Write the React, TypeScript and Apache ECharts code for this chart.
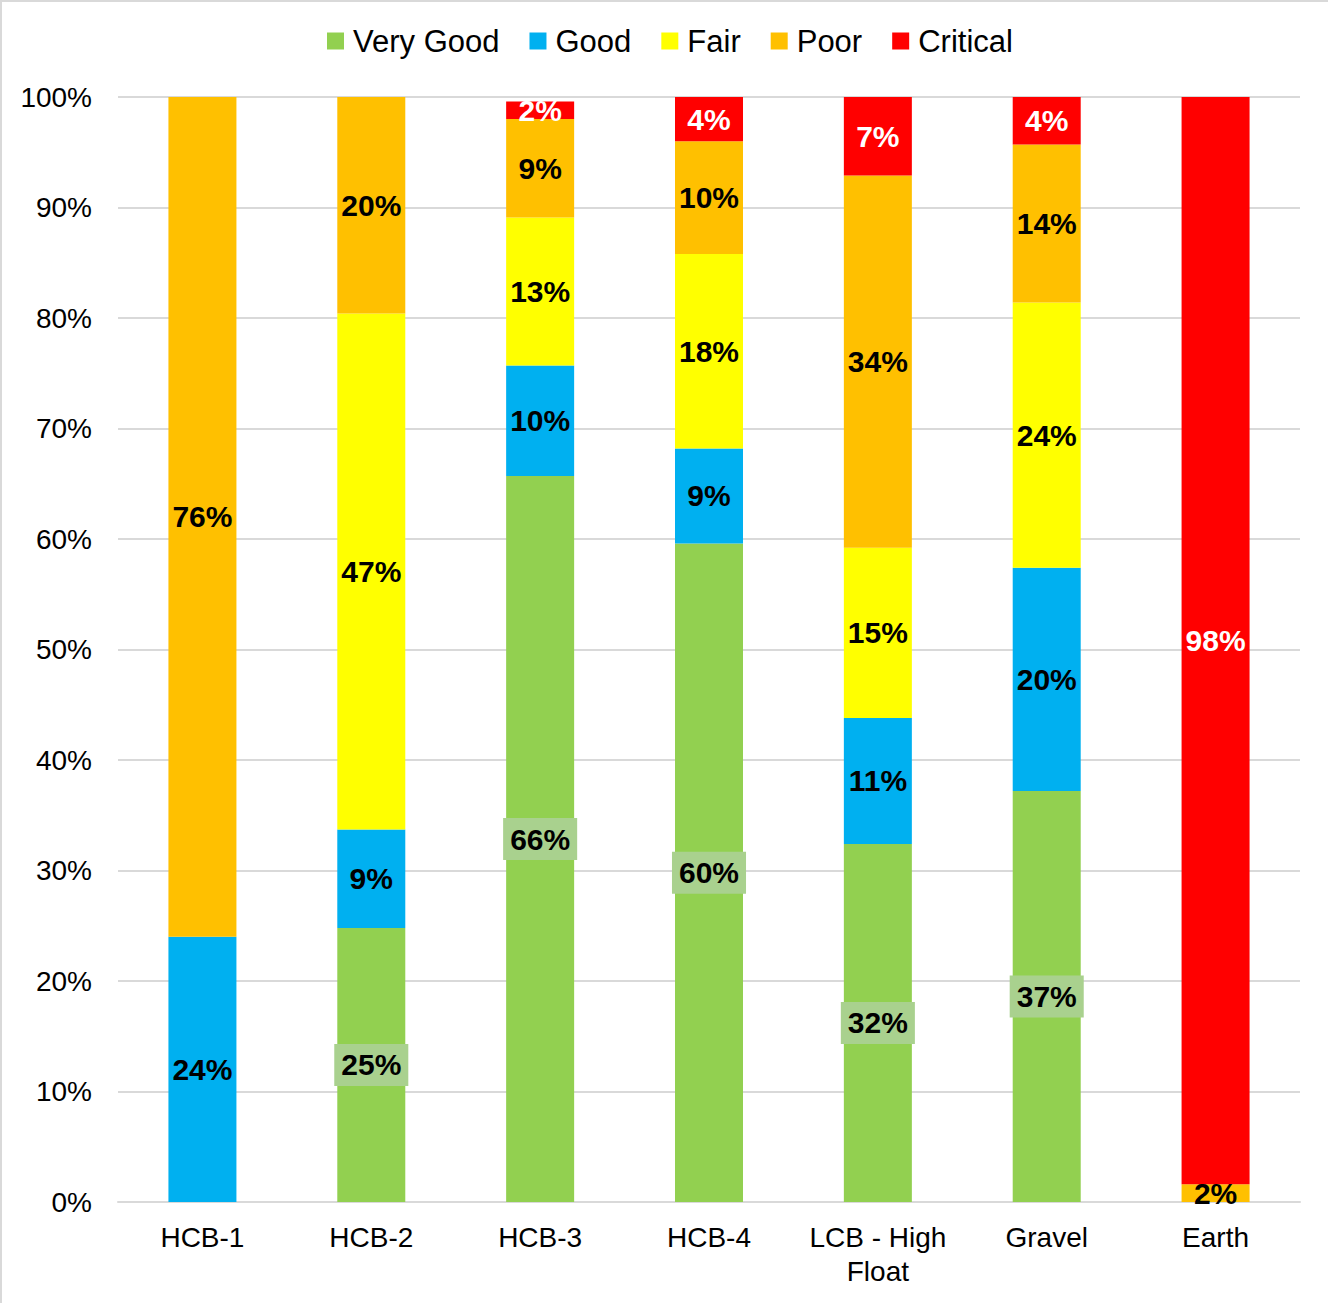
import React, { useEffect, useRef } from "react";
import * as echarts from "echarts";

const categories = ["HCB-1", "HCB-2", "HCB-3", "HCB-4", "LCB - High\nFloat", "Gravel", "Earth"];
const seriesNames = ["Very Good", "Good", "Fair", "Poor", "Critical"];
const veryGood = [0, 24.8, 65.7, 59.6, 32.4, 37.2, 0];
const good = [24.0, 8.9, 10.0, 8.6, 11.4, 20.2, 0];
const fair = [0, 46.7, 13.4, 17.6, 15.4, 24.0, 0];
const poor = [76.0, 19.6, 8.9, 10.2, 33.7, 14.3, 1.6];
const critical = [0, 0, 1.6, 4.0, 7.1, 4.3, 98.4];
const yTicks = [0, 10, 20, 30, 40, 50, 60, 70, 80, 90, 100];

const colors = ["#92D050", "#00B0F0", "#FFFF00", "#FFC000", "#FF0000"];
const FONT = "'Liberation Sans', Arial, sans-serif";

export default function App() {
  const ref = useRef<HTMLDivElement>(null);
  useEffect(() => {
    if (!ref.current) return;
    const chart = echarts.init(ref.current, null, { renderer: "svg" });
    const data = [veryGood, good, fair, poor, critical];
    const series = data.map((arr, i) => ({
      name: seriesNames[i],
      type: "bar",
      stack: "total",
      barWidth: 68,
      itemStyle: { color: colors[i] },
      data: arr.map((v) => (v === 0 ? "-" : v)),
      label: {
        show: true,
        position: "inside",
        formatter: (p: any) => Math.round(p.value) + "%",
        fontFamily: FONT,
        fontWeight: "bold",
        fontSize: 30,
        color: i === 4 ? "#FFFFFF" : "#000000",
        ...(i === 0
          ? { backgroundColor: "#A9D18E", padding: [7, 7, 5, 7] }
          : {}),
      },
    }));
    chart.setOption({
      animation: false,
      backgroundColor: "#FFFFFF",
      textStyle: { fontFamily: FONT },
      graphic: [
        { type: "line", shape: { x1: 0, y1: 1, x2: 1328, y2: 1 }, style: { stroke: "#D9D9D9", lineWidth: 2 } },
        { type: "line", shape: { x1: 1, y1: 0, x2: 1, y2: 1303 }, style: { stroke: "#D9D9D9", lineWidth: 2 } },
      ],
      legend: {
        top: 25,
        left: 327,
        padding: 0,
        itemWidth: 17,
        itemHeight: 17,
        itemGap: 30,
        icon: "rect",
        data: seriesNames,
        textStyle: {
          fontFamily: FONT,
          fontSize: 31,
          color: "#000000",
          lineHeight: 32,
          padding: [0, 0, 0, 4],
        },
      },
      grid: { left: 118, right: 28, top: 97, bottom: 101 },
      xAxis: {
        type: "category",
        data: categories,
        axisTick: { show: false },
        axisLine: { lineStyle: { color: "#D9D9D9", width: 2 } },
        axisLabel: {
          fontFamily: FONT,
          fontSize: 28,
          color: "#000000",
          margin: 18,
          lineHeight: 34,
          interval: 0,
        },
      },
      yAxis: {
        type: "value",
        min: yTicks[0],
        max: yTicks[yTicks.length - 1],
        interval: 10,
        axisLine: { show: false },
        axisTick: { show: false },
        splitLine: { lineStyle: { color: "#D9D9D9", width: 2 } },
        axisLabel: {
          formatter: "{value}%",
          fontFamily: FONT,
          fontSize: 28,
          color: "#000000",
          margin: 26,
        },
      },
      series,
    });
    return () => chart.dispose();
  }, []);
  return (
    <div
      ref={ref}
      style={{ position: "fixed", left: 0, top: 0, width: 1328, height: 1303 }}
    />
  );
}
